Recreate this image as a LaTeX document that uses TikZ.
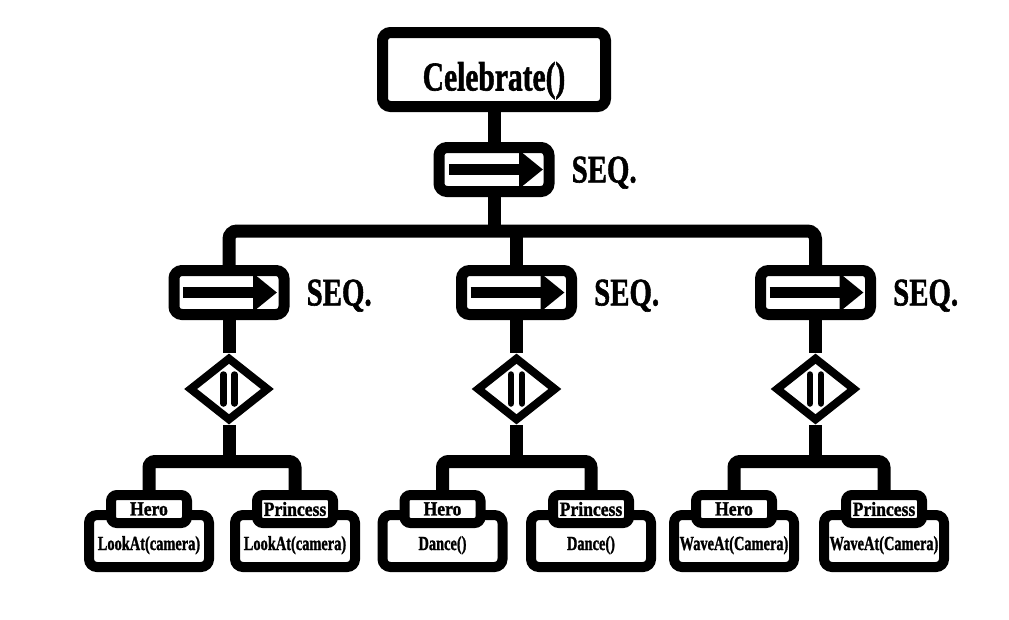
\documentclass[tikz,border=0pt]{standalone}
\usepackage{graphicx}
\usepackage{fontspec}
\newfontfamily\gotico{Liberation Serif}[FakeBold=1.5]
\usetikzlibrary{arrows.meta,shapes.geometric,positioning}
\newcommand{\stretto}[2]{\scalebox{#1}[1]{#2}}

\begin{document}
\begin{tikzpicture}[x=1pt,y=-1pt,>={Triangle[length=24pt,width=37pt]},
  box/.style={draw,line width=11pt,rounded corners=8pt,fill=white,inner sep=0pt},
  seqbox/.style={box,minimum width=110pt,minimum height=44pt},
  seqlabel/.style={inner sep=0pt,text depth=0pt,font=\fontsize{39}{42}\gotico\bfseries},
  pardiamond/.style={draw,diamond,line width=8pt,fill=white,inner sep=0pt,minimum width=80pt,minimum height=64pt},
  sbarre/.style={line width=6.5pt,line cap=round},
  opbox/.style={draw,line width=10pt,rounded corners=8pt,fill=white,inner sep=0pt,minimum width=120pt,minimum height=52pt,text height=18pt,text depth=0pt,font=\fontsize{20}{22}\gotico\bfseries},
  namebox/.style={draw,line width=10pt,rounded corners=6pt,fill=white,inner sep=0pt,minimum width=76pt,minimum height=28pt,font=\fontsize{20}{22}\gotico\bfseries},
  wire/.style={line width=13pt}]

\useasboundingbox (0,0) rectangle (1009,619);

% Radice e sequenza principale
\node[box,minimum width=223pt,minimum height=74pt,text height=42pt,text depth=0pt,font=\fontsize{41}{44}\gotico\bfseries] (root) at (494,69.5) {\stretto{0.72}{Celebrate()}};
\node[seqbox] (s0) at (494,169.5) {};
\node[seqlabel,right=17pt of s0] (l0) {\stretto{0.74}{SEQ.}};
\draw[line width=11pt,->] ([xshift=-45pt]s0.center) -- ([xshift=49pt]s0.center);

% Sequenze figlie
\node[seqbox] (c1) at (229,292.5) {};
\node[seqbox] (c2) at (516.5,292.5) {};
\node[seqbox] (c3) at (815.5,292.5) {};
\node[seqlabel,right=17pt of c1] (l1) {\stretto{0.74}{SEQ.}};
\node[seqlabel,right=17pt of c2] (l2) {\stretto{0.74}{SEQ.}};
\node[seqlabel,right=17pt of c3] (l3) {\stretto{0.74}{SEQ.}};
\draw[line width=11pt,->] ([xshift=-46pt]c1.center) -- ([xshift=48pt]c1.center);
\draw[line width=11pt,->] ([xshift=-46pt]c2.center) -- ([xshift=48pt]c2.center);
\draw[line width=11pt,->] ([xshift=-46pt]c3.center) -- ([xshift=48pt]c3.center);

% Nodi paralleli
\node[pardiamond] (d1) at (229,389) {};
\node[pardiamond] (d2) at (516.5,389) {};
\node[pardiamond] (d3) at (815.5,389) {};
\draw[sbarre] ([xshift=-5.5pt,yshift=14.5pt]d1.center) -- ++(0,29) ([xshift=5.5pt,yshift=14.5pt]d1.center) -- ++(0,29);
\draw[sbarre] ([xshift=-5.5pt,yshift=14.5pt]d2.center) -- ++(0,29) ([xshift=5.5pt,yshift=14.5pt]d2.center) -- ++(0,29);
\draw[sbarre] ([xshift=-5.5pt,yshift=14.5pt]d3.center) -- ++(0,29) ([xshift=5.5pt,yshift=14.5pt]d3.center) -- ++(0,29);

% Foglie
\node[opbox] (o11) at (149,541) {\stretto{0.72}{LookAt(camera)}};
\node[namebox] (n11) at (149,509) {\stretto{0.88}{Hero}};
\node[opbox] (o12) at (295,541) {\stretto{0.72}{LookAt(camera)}};
\node[namebox] (n12) at (295,509) {\stretto{0.88}{Princess}};
\node[opbox] (o21) at (442.5,541) {\stretto{0.72}{Dance()}};
\node[namebox] (n21) at (442.5,509) {\stretto{0.88}{Hero}};
\node[opbox] (o22) at (591,541) {\stretto{0.72}{Dance()}};
\node[namebox] (n22) at (591,509) {\stretto{0.88}{Princess}};
\node[opbox] (o31) at (734,541) {\stretto{0.72}{WaveAt(Camera)}};
\node[namebox] (n31) at (734,509) {\stretto{0.88}{Hero}};
\node[opbox] (o32) at (884,541) {\stretto{0.72}{WaveAt(Camera)}};
\node[namebox] (n32) at (884,509) {\stretto{0.88}{Princess}};

% Collegamenti
\coordinate (b0) at (0,231);
\coordinate (b1) at (0,461.5);
\draw[wire] (root) -- (s0);
\draw[wire] (s0.south) -- (s0.south |- b0);
\draw[wire,rounded corners=8pt] (c1.north) -- (c1.north |- b0) -- (c3.north |- b0) -- (c3.north);
\draw[wire] (c2.north) -- (c2.north |- b0);
\draw[wire] (c1) -- (d1);
\draw[wire] (c2) -- (d2);
\draw[wire] (c3) -- (d3);
\draw[wire] (d1.south) -- (d1.south |- b1);
\draw[wire] (d2.south) -- (d2.south |- b1);
\draw[wire] (d3.south) -- (d3.south |- b1);
\draw[wire,rounded corners=6pt] (n11.north) -- (n11.north |- b1) -- (n12.north |- b1) -- (n12.north);
\draw[wire,rounded corners=6pt] (n21.north) -- (n21.north |- b1) -- (n22.north |- b1) -- (n22.north);
\draw[wire,rounded corners=6pt] (n31.north) -- (n31.north |- b1) -- (n32.north |- b1) -- (n32.north);

\end{tikzpicture}
\end{document}
